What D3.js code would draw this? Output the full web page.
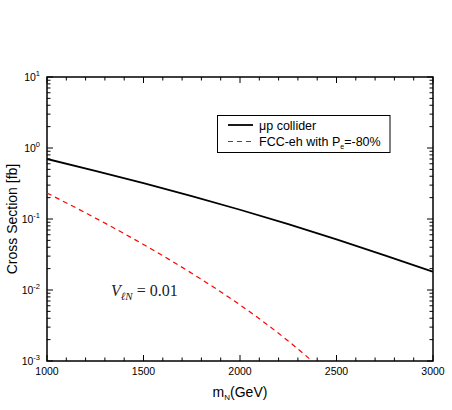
<!DOCTYPE html>
<html>
<head>
<meta charset="utf-8">
<script src="https://cdn.jsdelivr.net/npm/d3@7"></script>
<style>
  body { margin: 0; background: #fff; }
</style>
</head>
<body>
<script>
const width = 452;
const height = 410;

const massGeV = [1000, 1250, 1500, 1750, 2000, 2250, 2500, 2750, 3000];
const muPCollider = [0.700, 0.476, 0.319, 0.210, 0.135, 0.0845, 0.0516, 0.0308, 0.0181];
const fccMass = [1000, 1250, 1500, 1750, 2000, 2250, 2375, 2500];
const fccEh = [0.232, 0.1035, 0.0437, 0.0172, 0.00617, 0.00191, 0.00099, 0.0005];
const xTicks = [1000, 1500, 2000, 2500, 3000];
const yExponents = [-3, -2, -1, 0, 1];

const margin = { top: 77, right: 19, bottom: 49, left: 47 };
const sans = "'Liberation Sans', Arial, sans-serif";
const serif = "'Liberation Serif', 'Times New Roman', serif";

const x = d3.scaleLinear()
  .domain([1000, 3000])
  .range([margin.left, width - margin.right]);

const y = d3.scaleLog()
  .domain([1e-3, 1e1])
  .range([height - margin.bottom, margin.top]);

const svg = d3.select("body")
  .append("svg")
  .attr("width", width)
  .attr("height", height)
  .attr("font-family", sans);

svg.append("defs").append("clipPath")
  .attr("id", "plot")
  .append("rect")
  .attr("x", margin.left)
  .attr("y", margin.top)
  .attr("width", width - margin.left - margin.right)
  .attr("height", height - margin.top - margin.bottom);

const x0 = margin.left, x1 = width - margin.right;
const y0 = height - margin.bottom, y1 = margin.top;

// ticks: majors every 500, minors every 100, all pointing inward
const xMinor = d3.range(1000, 3001, 100);
const ticks = svg.append("g").attr("stroke", "#000").attr("stroke-width", 1);
xMinor.forEach(v => {
  const len = v % 500 === 0 ? 6 : 3.5;
  ticks.append("line").attr("x1", x(v)).attr("x2", x(v)).attr("y1", y0).attr("y2", y0 - len);
  ticks.append("line").attr("x1", x(v)).attr("x2", x(v)).attr("y1", y1).attr("y2", y1 + len);
});

const yMinor = [];
for (let e = -3; e < 1; e++) {
  for (let m = 1; m < 10; m++) yMinor.push(m * Math.pow(10, e));
}
yMinor.push(10);
yMinor.forEach(v => {
  const major = Math.abs(Math.log10(v) - Math.round(Math.log10(v))) < 1e-9;
  const len = major ? 6 : 3.5;
  ticks.append("line").attr("x1", x0).attr("x2", x0 + len).attr("y1", y(v)).attr("y2", y(v));
  ticks.append("line").attr("x1", x1).attr("x2", x1 - len).attr("y1", y(v)).attr("y2", y(v));
});

// frame
svg.append("rect")
  .attr("x", x0)
  .attr("y", y1)
  .attr("width", x1 - x0)
  .attr("height", y0 - y1)
  .attr("fill", "none")
  .attr("stroke", "#000")
  .attr("stroke-width", 1.5);

// tick labels
svg.append("g")
  .selectAll("text")
  .data(xTicks)
  .join("text")
  .attr("x", d => x(d))
  .attr("y", y0 + 13.5)
  .attr("text-anchor", "middle")
  .attr("font-size", 10.5)
  .text(d => d);

const yLab = svg.append("g")
  .selectAll("text")
  .data(yExponents)
  .join("text")
  .attr("x", 40)
  .attr("y", d => y(Math.pow(10, d)) + 4)
  .attr("text-anchor", "end")
  .attr("font-size", 10.5);
yLab.append("tspan").text("10");
yLab.append("tspan")
  .attr("dy", -5)
  .attr("font-size", 7.5)
  .text(d => d < 0 ? "-" + Math.abs(d) : d);

// axis titles
svg.append("text")
  .attr("transform", `translate(17,${(y0 + y1) / 2}) rotate(-90)`)
  .attr("text-anchor", "middle")
  .attr("font-size", 14)
  .text("Cross Section [fb]");

const xt = svg.append("text")
  .attr("x", x(2000))
  .attr("y", 397)
  .attr("text-anchor", "middle")
  .attr("font-size", 14);
xt.append("tspan").text("m");
xt.append("tspan").attr("dy", 3).attr("font-size", 8).text("N");
xt.append("tspan").attr("dy", -3).text("(GeV)");

// curves
const line = d3.line()
  .x(d => x(d[0]))
  .y(d => y(d[1]))
  .curve(d3.curveMonotoneX);

const plot = svg.append("g").attr("clip-path", "url(#plot)");

plot.append("path")
  .datum(d3.zip(massGeV, muPCollider))
  .attr("d", line)
  .attr("fill", "none")
  .attr("stroke", "#000")
  .attr("stroke-width", 1.8);

plot.append("path")
  .datum(d3.zip(fccMass, fccEh))
  .attr("d", line)
  .attr("fill", "none")
  .attr("stroke", "#ff0000")
  .attr("stroke-width", 1.2)
  .attr("stroke-dasharray", "5,4");

// legend
const legend = svg.append("g");
legend.append("rect")
  .attr("x", 217.5)
  .attr("y", 115.5)
  .attr("width", 172.5)
  .attr("height", 37)
  .attr("fill", "#fff")
  .attr("stroke", "#000")
  .attr("stroke-width", 1);

legend.append("line")
  .attr("x1", 228).attr("x2", 253).attr("y1", 125).attr("y2", 125)
  .attr("stroke", "#000").attr("stroke-width", 1.8);
legend.append("text")
  .attr("x", 259).attr("y", 129.5)
  .attr("font-size", 12.5)
  .text("\u03bcp collider");

legend.append("line")
  .attr("x1", 228).attr("x2", 253).attr("y1", 141.5).attr("y2", 141.5)
  .attr("stroke", "#ff0000").attr("stroke-width", 1.2)
  .attr("stroke-dasharray", "5,4");
const lt = legend.append("text")
  .attr("x", 259).attr("y", 146)
  .attr("font-size", 12.5);
lt.append("tspan").text("FCC-eh with P");
lt.append("tspan").attr("dy", 3).attr("font-size", 7).text("e");
lt.append("tspan").attr("dy", -3).text("=-80%");

// coupling annotation
const ann = svg.append("text")
  .attr("x", 111)
  .attr("y", 296)
  .attr("font-family", serif)
  .attr("font-size", 16)
  .attr("fill", "#222");
ann.append("tspan").attr("font-style", "italic").text("V");
ann.append("tspan").attr("dy", 4).attr("font-size", 11).attr("font-style", "italic").text("\u2113N");
ann.append("tspan").attr("dy", -4).text(" = 0.01");
</script>
</body>
</html>
